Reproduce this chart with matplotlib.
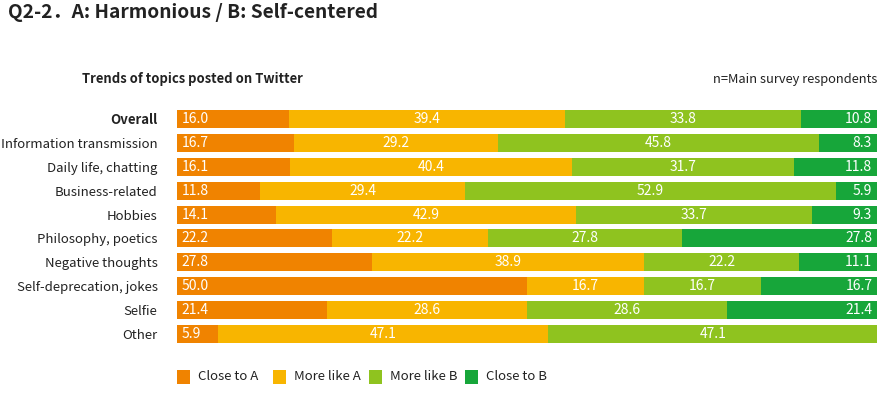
import numpy as np
import matplotlib.pyplot as plt
from matplotlib.patches import Rectangle

plt.rcParams['font.family'] = ['Noto Sans CJK JP', 'DejaVu Sans']

categories = ['Overall', 'Information transmission', 'Daily life, chatting',
              'Business-related', 'Hobbies', 'Philosophy, poetics',
              'Negative thoughts', 'Self-deprecation, jokes', 'Selfie', 'Other']
close_a = [16.0, 16.7, 16.1, 11.8, 14.1, 22.2, 27.8, 50.0, 21.4, 5.9]
more_a = [39.4, 29.2, 40.4, 29.4, 42.9, 22.2, 38.9, 16.7, 28.6, 47.1]
more_b = [33.8, 45.8, 31.7, 52.9, 33.7, 27.8, 22.2, 16.7, 28.6, 47.1]
close_b = [10.8, 8.3, 11.8, 5.9, 9.3, 27.8, 11.1, 16.7, 21.4, 0.0]

series = [close_a, more_a, more_b, close_b]
names = ['Close to A', 'More like A', 'More like B', 'Close to B']
colors = ['#F08300', '#F8B500', '#8FC31F', '#17A63A']
txt = '#222222'

fig = plt.figure(figsize=(8.79, 3.95), dpi=100)
ax = fig.add_axes([177/879, 1-346/395, 700/879, 239/395])

y = np.arange(len(categories))
left = np.zeros(len(categories))
for k, (vals, col) in enumerate(zip(series, colors)):
    vals = np.array(vals)
    ax.barh(y, vals, left=left, height=0.75, color=col, edgecolor='none')
    for i, v in enumerate(vals):
        if v <= 0:
            continue
        if k == 0:
            ax.text(left[i] + 0.7, i, f'{v:.1f}', ha='left', va='center',
                    color='white', fontsize=10)
        elif k == 3:
            ax.text(left[i] + v - 0.7, i, f'{v:.1f}', ha='right', va='center',
                    color='white', fontsize=10)
        else:
            ax.text(left[i] + v / 2, i, f'{v:.1f}', ha='center', va='center',
                    color='white', fontsize=10)
    left += vals

ax.set_xlim(0, 100)
ax.set_ylim(len(categories) - 0.5, -0.5)
ax.set_xticks([])
ax.set_yticks(y)
ax.set_yticklabels(categories, fontsize=9.5, color=txt)
ax.get_yticklabels()[0].set_fontweight('bold')
ax.tick_params(axis='y', length=0, pad=14)
for s in ax.spines.values():
    s.set_visible(False)

fig.text(8/879, 1-12/395, 'Q2-2．A: Harmonious / B: Self-centered',
         fontsize=13.8, fontweight='bold', color=txt, va='center')
fig.text(82/879, 1-79/395, 'Trends of topics posted on Twitter',
         fontsize=9.4, fontweight='bold', color=txt, va='center')
fig.text(877/879, 1-79/395, 'n=Main survey respondents',
         fontsize=9.3, color=txt, va='center', ha='right')

# legend with fixed column width like the original
for j, (name, col) in enumerate(zip(names, colors)):
    x0 = (177 + 96 * j) / 879
    fig.patches.append(Rectangle((x0, 1-384/395), 13/879, 14/395,
                                 transform=fig.transFigure, facecolor=col,
                                 edgecolor='none'))
    fig.text(x0 + 21/879, 1-377/395, name, fontsize=9.5, color=txt, va='center')

fig.savefig('out.png', dpi=100)
